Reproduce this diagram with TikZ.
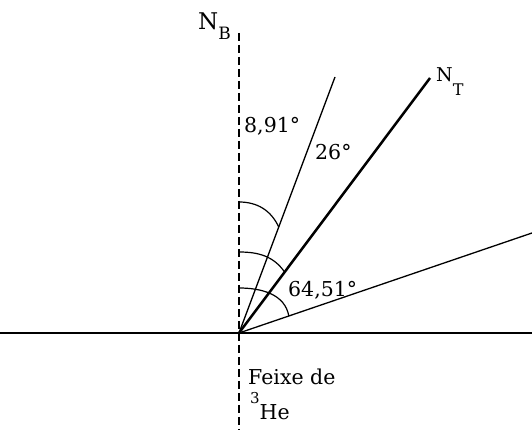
\documentclass[tikz,border=0pt]{standalone}
\usepackage{fontspec}
\setmainfont{DejaVu Serif}
\usetikzlibrary{positioning,calc}
\tikzset{
  surface/.style  = {line width=1.9pt},
  normal/.style   = {line width=1.4pt, dash pattern=on 8pt off 4pt},
  ray/.style      = {line width=1.3pt},
  track/.style    = {line width=2.5pt},
  anglearc/.style = {line width=1.2pt},
  lbl/.style      = {inner sep=0pt, anchor=base west,
                     font=\fontsize{20.5}{24}\selectfont},
}
\begin{document}
\begin{tikzpicture}[x=1pt,y=1pt]
\useasboundingbox (0,0) rectangle (532,430);
\coordinate (o) at (239,97);
\coordinate (w) at (0,97);
\coordinate (e) at (532,97);
\coordinate (top) at (239,397);
\coordinate (bot) at (239,0);
\coordinate (r1) at (335,353);
\coordinate (nt) at (430,352);
\coordinate (r3) at (532,197);
% surface, normal and the three directions
\draw[surface] (w) -- (e);
\draw[normal] (top) -- (bot);
\draw[ray] (o) -- (r1);
\draw[track] (o) -- (nt);
\draw[ray] (o) -- (r3);
% angle marks from the normal
\draw[anglearc] ($(o)+(0,131)$) to[out=0,in=115] ($(o)!0.414!(r1)$);
\draw[anglearc] ($(o)+(0,81)$) to[out=0,in=125] ($(o)!0.239!(nt)$);
\draw[anglearc] ($(o)+(0,45)$) to[out=0,in=100] ($(o)!0.17!(r3)$);
% labels
\node[lbl] (lnb) at (198,400) {\fontsize{23}{26}\selectfont N\raisebox{-10pt}{\fontsize{17}{17}\selectfont B}};
\node[lbl] (lnt) at (436,348) {\fontsize{19}{22}\selectfont N\raisebox{-14pt}{\fontsize{16}{16}\selectfont T}};
\node[lbl] (la1) at (244,297) {8,91°};
\node[lbl] (la2) at (315,270) {26°};
\node[lbl] (la3) at (288,133) {64,51°};
\node[lbl] (lbeam) at (248,45) {Feixe de};
\node[lbl] (lhe) at (250,10) {\raisebox{16pt}{\fontsize{15}{15}\selectfont 3}He};
\end{tikzpicture}
\end{document}
